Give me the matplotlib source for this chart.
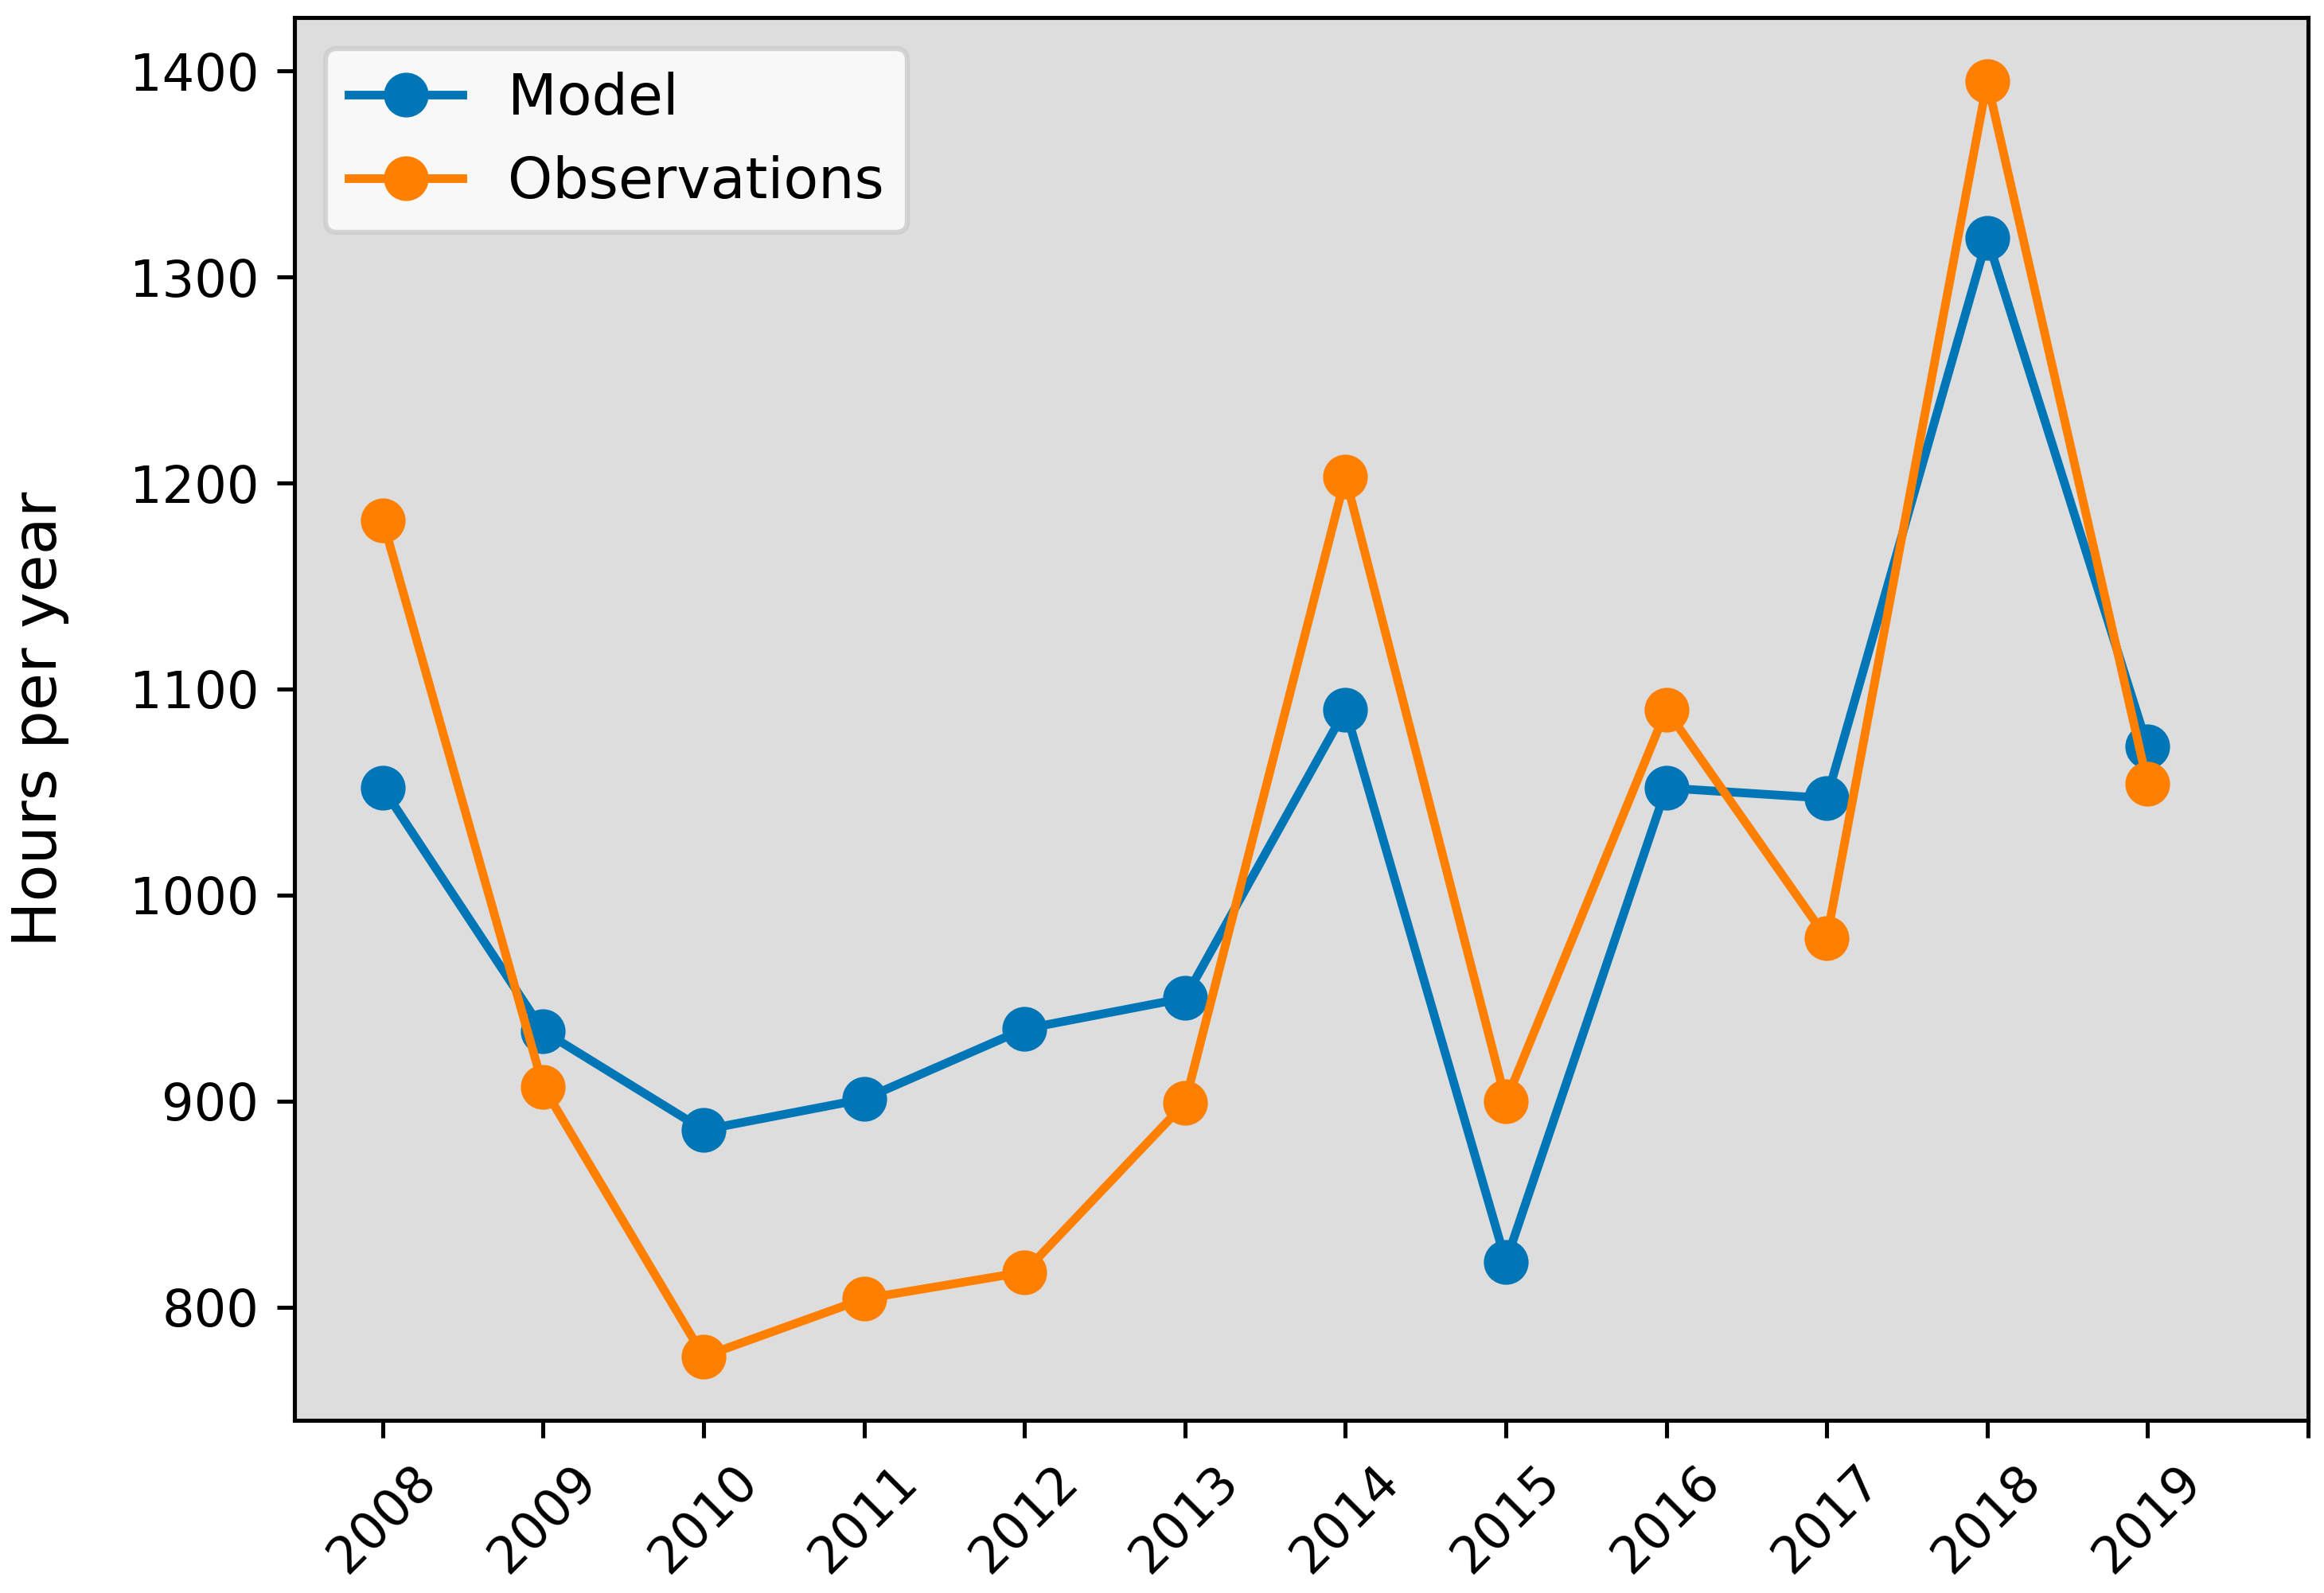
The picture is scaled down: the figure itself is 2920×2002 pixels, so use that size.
import matplotlib
matplotlib.use("Agg")
import matplotlib.pyplot as plt

years = [2008, 2009, 2010, 2011, 2012, 2013, 2014, 2015, 2016, 2017, 2018, 2019]
model = [1052, 934, 886, 901, 935, 950, 1090, 822, 1052, 1047, 1319, 1072]
observations = [1182, 907, 776, 804, 817, 899, 1203, 900, 1090, 979, 1395, 1054]
tick_positions = list(range(2008, 2021))
tick_labels = [str(y) for y in years] + [""]

model_color = "#0076b6"
obs_color = "#ff8000"

dpi = 460
fig = plt.figure(figsize=(2920 / dpi, 2002 / dpi), dpi=dpi)
ax = fig.add_axes([370 / 2920, 1 - 1785 / 2002, (2900 - 370) / 2920, (1785 - 22) / 2002])
ax.set_facecolor("#dddddd")

ax.plot(years, model, "-o", color=model_color, lw=1.7, markersize=7.8, label="Model")
ax.plot(years, observations, "-o", color=obs_color, lw=1.7, markersize=7.8, label="Observations")

ax.set_xlim(2007.45, 2020.0)
ax.set_ylim(745, 1426)
ax.set_xticks(tick_positions)
ax.set_xticklabels(tick_labels, rotation=45, fontsize=10)
ax.set_yticks([800, 900, 1000, 1100, 1200, 1300, 1400])
ax.tick_params(axis="y", labelsize=10)

ax.set_ylabel("Hours per year", fontsize=12)
ax.yaxis.set_label_coords(-0.112, 0.5)

ax.legend(loc="upper left", fontsize=11.2, borderaxespad=0.55)

fig.savefig("out.png", dpi=dpi)
